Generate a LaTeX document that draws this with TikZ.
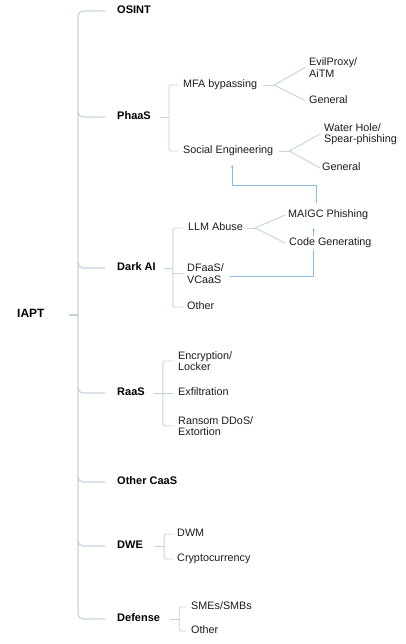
\documentclass[tikz,border=0pt]{standalone}
\usepackage{fontspec}
\setmainfont{Liberation Sans}
\usetikzlibrary{arrows.meta,positioning,backgrounds}
\definecolor{linegray}{RGB}{198,210,222}
\definecolor{flowblue}{RGB}{140,186,226}
\definecolor{inkdark}{RGB}{28,28,28}
\tikzset{
  leaf/.style={
    anchor=west,
    inner sep=2pt,
    fill=white,
    text=inkdark,
    align=left,
    font=\fontsize{10.8}{11.5}\selectfont
  },
  leafone/.style={
    leaf,
    text height=7.8pt,
    text depth=2.2pt
  },
  cat/.style={
    anchor=west,
    inner sep=2pt,
    text=black,
    text height=8pt,
    text depth=2.2pt,
    font=\fontsize{11}{13}\selectfont\bfseries
  },
  root/.style={
    cat,
    font=\fontsize{12}{14}\selectfont\bfseries
  },
  trunk/.style={draw=linegray, line width=1.2pt, rounded corners=5pt},
  branch/.style={draw=linegray, line width=0.9pt, line cap=round, rounded corners=1.5pt},
  flow/.style={draw=flowblue, line width=0.9pt, -{Stealth[length=2.6pt,width=2.6pt]}}
}

\begin{document}
\begin{tikzpicture}[x=1pt, y=-1pt]
    \useasboundingbox (0,0) rectangle (405,644);

    % root and main branches
    \node[root] (iapt) at (15,315) {IAPT};
    \node[cat] (osint) at (115,11) {OSINT};
    \node[cat] (phaas) at (115,117) {PhaaS};
    \node[cat] (darkai) at (115,268) {Dark AI};
    \node[cat] (raas) at (115,393) {RaaS};
    \node[cat] (othercaas) at (115,482) {Other CaaS};
    \node[cat] (dwe) at (115,546) {DWE};
    \node[cat] (defense) at (115,619) {Defense};
    \coordinate (trunk) at (78,315);

    % PhaaS
    \node[leafone] (mfa) at (181,85) {MFA bypassing};
    \node[leafone] (social) at (181,151) {Social Engineering};
    \node[leaf] (evil) at (307,67.5) {EvilProxy/\\AiTM};
    \node[leafone] (mfagen) at (307,100.5) {General};
    \node[leaf] (water) at (322,134) {Water Hole/\\Spear-phishing};
    \node[leafone] (socgen) at (320,168) {General};

    % Dark AI
    \node[leafone] (llm) at (186,228) {LLM Abuse};
    \node[leaf] (dfaas) at (185,273.5) {DFaaS/\\VCaaS};
    \node[leafone] (darkother) at (185,307) {Other};
    \node[leafone] (maigc) at (286,215) {MAIGC Phishing};
    \node[leafone] (codegen) at (287,243) {Code Generating};

    % RaaS
    \node[leaf] (encrypt) at (176,361) {Encryption/\\Locker};
    \node[leafone] (exfil) at (176,393) {Exfiltration};
    \node[leaf] (ransom) at (176,426) {Ransom DDoS/\\Extortion};

    % DWE
    \node[leafone] (dwm) at (175,534) {DWM};
    \node[leafone] (crypto) at (175,559) {Cryptocurrency};

    % Defense
    \node[leafone] (smes) at (189,607) {SMEs/SMBs};
    \node[leafone] (defother) at (189,631) {Other};

    % trunk
    \draw[trunk] ([xshift=-10pt]osint.west) -| (trunk) -- (trunk |- defense.west) -- ([xshift=-10pt]defense.west);
    \draw[trunk] ([xshift=22pt]iapt.east) -- (trunk);
    \foreach \n in {phaas,darkai,raas,othercaas,dwe}
      \draw[trunk] (trunk |- \n.west) ++(0,-6) -- (trunk |- \n.west) -- ([xshift=-10pt]\n.west);

    % second level
    \draw[branch] ([xshift=7pt]phaas.east) -- ++(9,0) coordinate (phaasj);
    \draw[branch] ([xshift=-3pt]mfa.west) -| (phaasj) |- ([xshift=-3pt]social.west);

    \draw[branch] ([xshift=6pt]darkai.east) -- ++(9,0) coordinate (darkj);
    \draw[branch] ([xshift=-3pt]llm.west) -| (darkj) |- ([xshift=-2pt]darkother.west);
    \draw[branch] (darkj |- dfaas.west) -- ([xshift=-2pt]dfaas.west);

    \draw[branch] ([xshift=7pt]raas.east) -- ++(9,0) coordinate (raasj);
    \draw[branch] ([xshift=-3pt]encrypt.west) -| (raasj) |- ([xshift=-3pt]ransom.west);
    \draw[branch] (raasj |- exfil.west) -- ([xshift=-3pt]exfil.west);

    \draw[branch] ([xshift=10pt]dwe.east) -- ++(9,0) coordinate (dwej);
    \draw[branch] ([xshift=-2pt]dwm.west) -| (dwej) |- ([xshift=-2pt]crypto.west);

    \draw[branch] ([xshift=8pt]defense.east) -- ++(9,0) coordinate (defj);
    \draw[branch] ([xshift=-3pt]smes.west) -| (defj) |- ([xshift=-3pt]defother.west);

    % third level fans
    \draw[branch] ([xshift=4pt]mfa.east) -- ++(11,0) coordinate (mfaj);
    \foreach \n in {evil,mfagen}
      \draw[branch] (mfaj) -- ([xshift=-2pt]\n.west);

    \draw[branch] ([xshift=4pt]social.east) -- ++(10,0) coordinate (socj);
    \draw[branch] (socj) -- ([xshift=-2pt]water.west);
    \draw[branch] (socj) -- (socgen.west);

    \draw[branch] ([xshift=2pt]llm.east) -- ++(8,0) coordinate (llmj);
    \draw[branch] (llmj) -- ([xshift=-1pt]maigc.west);
    \draw[branch] (llmj) -- ([xshift=-2pt]codegen.west);

    % cross links
    \begin{scope}[on background layer]
      \draw[flow, shorten >=7pt] ([xshift=-12pt,yshift=5pt]maigc.north) -- ++(0,-17) -| ([xshift=4pt]social.south);
      \draw[flow, shorten >=6pt] ([xshift=4pt,yshift=-2.5pt]dfaas.east) -| ([xshift=-14.5pt]maigc.south);
    \end{scope}
\end{tikzpicture}
\end{document}
